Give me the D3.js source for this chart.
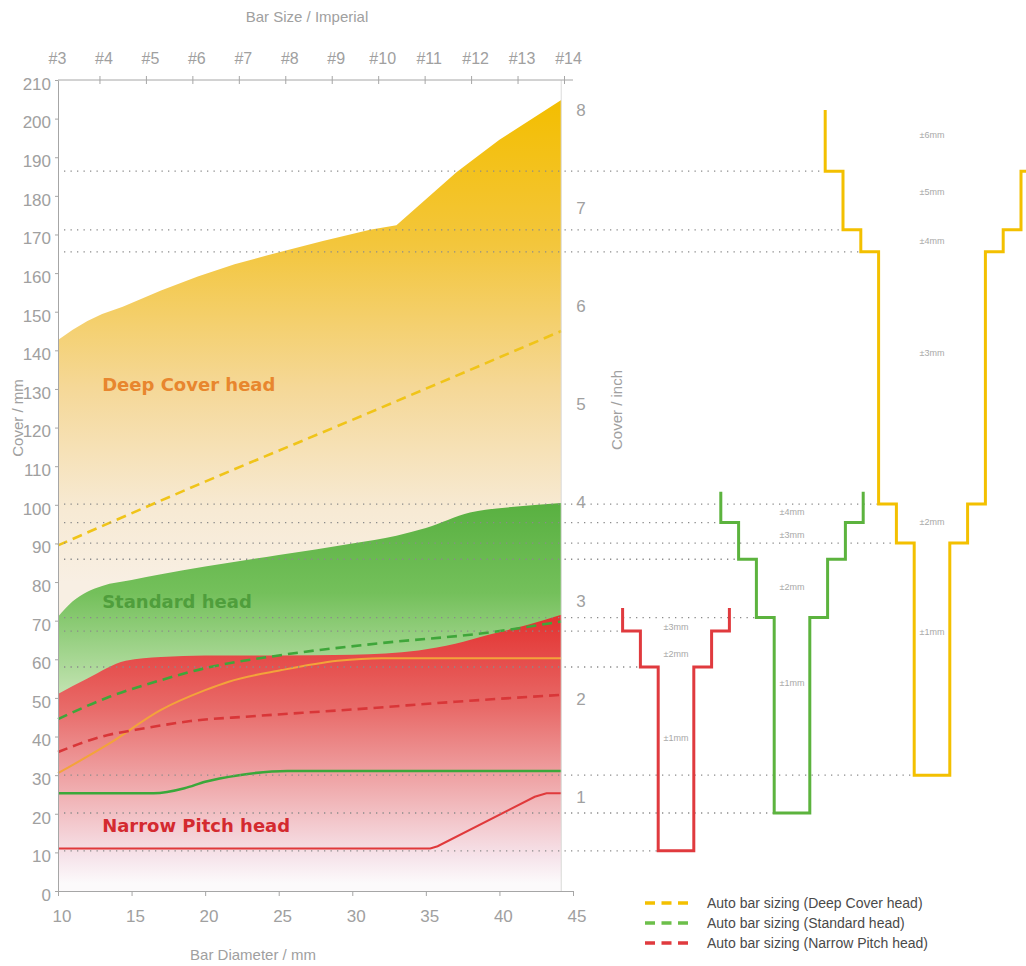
<!DOCTYPE html>
<html>
<head>
<meta charset="utf-8">
<script src="https://cdn.jsdelivr.net/npm/d3@7"></script>
<style>
  body { margin: 0; background: #fff; }
  svg { display: block; }
  text { font-family: "Liberation Sans Narrow", "Liberation Sans", Arial, sans-serif; }
</style>
</head>
<body>
<svg id="chartSVG"></svg>
<script>
// ---- data ----
let diaTicks = [10, 15, 20, 25, 30, 35, 40, 45];
let coverTicks = [0, 10, 20, 30, 40, 50, 60, 70, 80, 90, 100, 110, 120, 130, 140, 150, 160, 170, 180, 190, 200, 210];
let inchTicks = [1, 2, 3, 4, 5, 6, 7, 8];
let imperialSizes = ['#3', '#4', '#5', '#6', '#7', '#8', '#9', '#10', '#11', '#12', '#13', '#14'];

// upper limit of each head's cover range  [bar diameter mm, cover mm]
let deepTop = [[10,142.7],[11,145.3],[12,147.6],[13,149.4],[14.4,151.3],[17,155.5],[19.5,159.1],[22,162.3],[24.7,165.1],[28,168.3],[31.2,171.2],[33,172.4],[37.1,186.2],[40,194.5],[44.2,204.8]];
let standardTop = [[10,71],[11,75],[12,77.5],[13,79],[15,80.5],[17,82],[20,84],[25,87],[30,90],[33,92],[35,94],[38,98],[41,99.5],[44.2,100.5]];
let narrowTop = [[10,51],[12,55],[14.6,59.6],[17,60.6],[20,61],[25,61],[30,61.2],[34.5,62.3],[37,64],[39.2,66.3],[42,69],[44.2,71.5]];

// lower limits (solid lines)
let deepMin = [[10,30.5],[13.5,38.2],[17,46.9],[20,52],[21.6,54.2],[25.2,57.2],[29,59.6],[32,60.3],[44.2,60.3]];
let standardMin = [[10,25.3],[16.5,25.3],[18.6,26.6],[20,28.3],[22.3,30],[25.6,31.1],[44.2,31.1]];
let narrowMin = [[10,11],[35.3,11],[35.8,11.6],[42.4,24.4],[43.2,25.3],[44.2,25.3]];

// auto bar sizing (dashed lines)
let deepAuto = [[10,89.5],[20,106],[30,122],[44.2,145]];
let standardAuto = [[10,44.5],[13.5,50.3],[17,54.6],[20,57.7],[25,61],[32,64.2],[39,66.8],[44.2,69.8]];
let narrowAuto = [[10,36],[13,40],[16,42.2],[19,44],[23,45.2],[30,47],[37,49],[44.2,50.8]];

// tolerance bands: cover limits (mm) from bottom to top, and label heights
let narrowSteps = [10.4, 58, 67.3, 73.3];
let standardSteps = [20.2, 70.8, 85.9, 95.4, 103.4];
let deepSteps = [30, 90.1, 100.2, 165.5, 171.2, 186.4, 202.2];
let narrowLabelAt = [39.6, 61.4, 68.4];
let standardLabelAt = [53.9, 78.7, 92.2, 98.1];
let deepLabelAt = [67.1, 95.5, 139.3, 168.3, 181, 195.8];

let legendItems = ['Auto bar sizing (Deep Cover head)', 'Auto bar sizing (Standard head)', 'Auto bar sizing (Narrow Pitch head)'];

// ---- layout ----
let widthSVG = 1026;
let heightSVG = 966;

let SVG = d3.select('svg#chartSVG')
            .attr('width', widthSVG)
            .attr('height', heightSVG);

let x = d3.scaleLinear().domain([10, 45]).range([58, 573]);
let y = d3.scaleLinear().domain([0, 210]).range([891, 80]);
let yInch = d3.scaleLinear().domain([0, 210 / 25.4]).range([891, 80]);
let xTop = d3.scalePoint().domain(imperialSizes).range([53, 564]);
let tol = d3.scaleLinear().domain([0, 1]).range([0, 17.8]);

let colors = {
  deep: '#f3c000', standard: '#5cb33e', narrow: '#e03a3e',
  deepAuto: '#f0c419', standardAuto: '#3fa63a', narrowAuto: '#d93638',
  deepMin: '#f3a33a', standardMin: '#3aa83a', narrowMin: '#e0393b',
  axis: '#a6a6a6', text: '#a0a0a0'
};

let defs = SVG.append('defs');
function addGradient(id, y1, y2, stops) {
  let g = defs.append('linearGradient')
              .attr('id', id)
              .attr('gradientUnits', 'userSpaceOnUse')
              .attr('x1', 0).attr('x2', 0)
              .attr('y1', y1).attr('y2', y2);
  g.selectAll('stop').data(stops).enter().append('stop')
   .attr('offset', d => d[0]).attr('stop-color', d => d[1]);
}
addGradient('gDeep', y(205), y(80), [[0,'#f3be00'],[0.3,'#f3c63c'],[0.6,'#f5d898'],[0.85,'#f7ead4'],[1,'#f8efe3']]);
addGradient('gStandard', y(101), y(48), [[0,'#58b040'],[0.45,'#74c05b'],[1,'#cbe7bb']]);
addGradient('gNarrow', y(72), y(2), [[0,'#e3302e'],[0.35,'#e86a68'],[0.7,'#f1b7ba'],[0.9,'#f6e3ea'],[1,'#fcfafb']]);

let plot = SVG.append('g').attr('id', 'plot');

let area = d3.area()
             .x(d => x(d[0]))
             .y0(y(0))
             .y1(d => y(d[1]))
             .curve(d3.curveMonotoneX);

let line = d3.line()
             .x(d => x(d[0]))
             .y(d => y(d[1]))
             .curve(d3.curveMonotoneX);

plot.append('path').datum(deepTop).attr('d', area.curve(d3.curveLinear)).style('fill', 'url(#gDeep)');
area.curve(d3.curveMonotoneX);
plot.append('path').datum(standardTop).attr('d', area).style('fill', 'url(#gStandard)');
plot.append('path').datum(narrowTop).attr('d', area).style('fill', 'url(#gNarrow)');

// tolerance profiles
let heads = [
  { steps: narrowSteps, labels: narrowLabelAt, color: colors.narrow, center: 676 },
  { steps: standardSteps, labels: standardLabelAt, color: colors.standard, center: 792 },
  { steps: deepSteps, labels: deepLabelAt, color: colors.deep, center: 932 }
];

function profilePoints(steps, c) {
  let n = steps.length - 1;
  let pts = [];
  for (let k = n; k >= 1; k--) {
    pts.push([c - tol(k), y(steps[k])]);
    pts.push([c - tol(k), y(steps[k - 1])]);
  }
  for (let k = 1; k <= n; k++) {
    pts.push([c + tol(k), y(steps[k - 1])]);
    pts.push([c + tol(k), y(steps[k])]);
  }
  return pts;
}

// dotted guide lines
let guides = [];
heads.forEach(h => {
  h.steps.slice(0, -1).forEach((v, i) => {
    guides.push({ v: v, x2: h.center - tol(i === 0 ? 1 : i + 1) });
  });
});

SVG.append('g').attr('class', 'guides')
   .selectAll('line')
   .data(guides)
   .enter()
   .append('line')
   .attr('x1', x(10) + 6)
   .attr('x2', d => d.x2)
   .attr('y1', d => y(d.v))
   .attr('y2', d => y(d.v))
   .style('stroke', '#8a8a8a')
   .style('stroke-width', 1.3)
   .style('stroke-dasharray', '1.3,5.2');

// solid lower-limit lines
[[deepMin, colors.deepMin, 2, d3.curveMonotoneX],
 [standardMin, colors.standardMin, 2.5, d3.curveMonotoneX],
 [narrowMin, colors.narrowMin, 2, d3.curveLinear]].forEach(s => {
  plot.append('path').datum(s[0]).attr('d', line.curve(s[3]))
      .style('fill', 'none').style('stroke', s[1]).style('stroke-width', s[2]);
});
line.curve(d3.curveMonotoneX);

// dashed auto sizing lines
[[narrowAuto, colors.narrowAuto], [standardAuto, colors.standardAuto], [deepAuto, colors.deepAuto]].forEach(s => {
  plot.append('path').datum(s[0]).attr('d', line)
      .style('fill', 'none').style('stroke', s[1]).style('stroke-width', 2.6)
      .style('stroke-dasharray', '10,6');
});

// head names
let headNames = [['Deep Cover head', 131, '#e8862e'], ['Standard head', 75, '#4f9e3c'], ['Narrow Pitch head', 17, '#d42a2f']];
plot.selectAll('text.head')
    .data(headNames)
    .enter()
    .append('text')
    .classed('head', true)
    .attr('x', x(13))
    .attr('y', d => y(d[1]))
    .attr('dy', '0.35em')
    .text(d => d[0])
    .style('font-family', '"DejaVu Sans", sans-serif')
    .style('font-weight', 'bold')
    .style('font-size', '18px')
    .style('fill', d => d[2]);

// right plot edge
plot.append('line')
    .attr('x1', x(44.2)).attr('x2', x(44.2))
    .attr('y1', y(210)).attr('y2', y(0))
    .style('stroke', '#dcdcdc').style('stroke-width', 1);

// profiles
let profG = SVG.append('g').attr('class', 'profiles');
heads.forEach(h => {
  profG.append('path')
       .attr('d', d3.line()(profilePoints(h.steps, h.center)))
       .style('fill', 'none')
       .style('stroke', h.color)
       .style('stroke-width', 3);
  profG.selectAll(null)
       .data(h.labels)
       .enter()
       .append('text')
       .attr('x', h.center)
       .attr('y', d => y(d))
       .attr('dy', '0.35em')
       .style('text-anchor', 'middle')
       .style('font-family', '"Liberation Sans", Arial, sans-serif')
       .style('font-size', '9px')
       .style('fill', '#a8a8a8')
       .text((d, i) => '±' + (i + 1) + 'mm');
});

// ---- axes ----
function styleAxis(g, size) {
  g.selectAll('path.domain').style('stroke', colors.axis);
  g.selectAll('.tick line').style('stroke', colors.axis);
  g.selectAll('.tick text').style('fill', colors.text).style('font-size', size);
}

let axisLeft = SVG.append('g')
    .attr('transform', `translate(${x(10)}, 0)`)
    .call(d3.axisLeft(y).tickValues(coverTicks).tickSize(3).tickSizeOuter(0).tickPadding(4));
axisLeft.selectAll('.tick text').attr('dy', '0.55em');
styleAxis(axisLeft, '17px');

let axisBottom = SVG.append('g')
    .attr('transform', `translate(0, ${y(0)})`)
    .call(d3.axisBottom(x).tickValues(diaTicks).tickSize(5).tickSizeOuter(0).tickPadding(14));
axisBottom.selectAll('.tick text').attr('dx', '0.2em');
styleAxis(axisBottom, '17px');

let axisTop = SVG.append('g')
    .attr('transform', `translate(0, ${y(210)})`)
    .call(d3.axisTop(xTop).tickSize(4).tickSizeOuter(0).tickPadding(12));
axisTop.select('path.domain').attr('d', `M${x(10)},0H${x(45)}`);
axisTop.selectAll('.tick line').attr('y2', -4).attr('y1', 4)
       .style('display', d => d === '#3' ? 'none' : null);
axisTop.selectAll('.tick text').attr('dx', '0.25em');
styleAxis(axisTop, '16px');

let axisInch = SVG.append('g')
    .attr('transform', `translate(${x(44.2) + 11}, 0)`)
    .call(d3.axisRight(yInch).tickValues(inchTicks).tickSize(0).tickPadding(4));
axisInch.select('path.domain').remove();
axisInch.selectAll('.tick text').attr('dy', '0.55em');
styleAxis(axisInch, '17px');

// axis titles
let titles = [
  ['Bar Size / Imperial', 307, 17, 0],
  ['Bar Diameter / mm', 253, 955, 0],
  ['Cover / mm', 18, 418, -90],
  ['Cover / inch', 617, 410, -90]
];
SVG.selectAll('text.title')
   .data(titles)
   .enter()
   .append('text')
   .classed('title', true)
   .attr('transform', d => `translate(${d[1]}, ${d[2]}) rotate(${d[3]})`)
   .attr('dy', '0.35em')
   .style('text-anchor', 'middle')
   .style('font-family', '"Liberation Sans", Arial, sans-serif')
   .style('font-size', '15px')
   .style('fill', colors.text)
   .text(d => d[0]);

// ---- legend ----
let legendColors = [colors.deep, '#6cbf4a', colors.narrow];
let legend = SVG.append('g').attr('transform', 'translate(645, 903)');
let rows = legend.selectAll('g')
                 .data(legendItems)
                 .enter()
                 .append('g')
                 .attr('transform', (d, i) => `translate(0, ${i * 20})`);
rows.append('line')
    .attr('x1', 0).attr('x2', 43)
    .attr('y1', 0).attr('y2', 0)
    .style('stroke', (d, i) => legendColors[i])
    .style('stroke-width', 3.5)
    .style('stroke-dasharray', '10,6.5');
rows.append('text')
    .attr('x', 62)
    .attr('dy', '0.35em')
    .style('font-family', '"Liberation Sans", Arial, sans-serif')
    .style('font-size', '14px')
    .style('fill', '#4a4a4a')
    .text(d => d);
</script>
</body>
</html>
